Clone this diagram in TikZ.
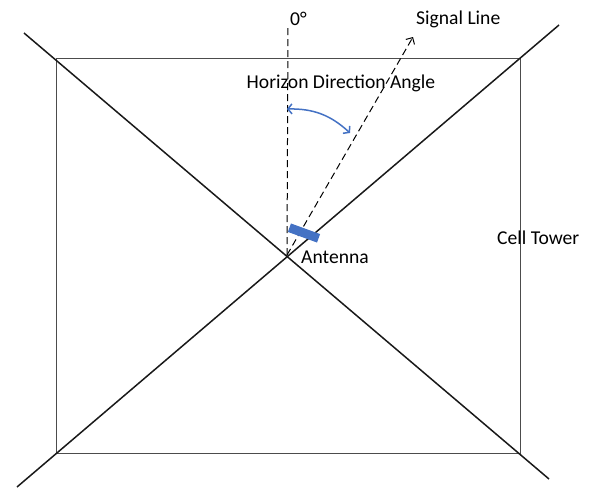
\documentclass[tikz,border=0pt]{standalone}
\usepackage{fontspec}
\setmainfont{Carlito}
\usetikzlibrary{arrows.meta}
\definecolor{antblue}{RGB}{68,114,196}
\tikzset{
  label text/.style={font=\fontsize{19.6}{22}\selectfont,inner sep=0pt},
  tower line/.style={line width=1.5pt,black!90},
  frame line/.style={line width=1pt,black!70},
  aim line/.style={line width=1pt,dash pattern=on 7pt off 4pt}
}
\begin{document}
\begin{tikzpicture}[x=1pt,y=-1pt,>=Latex]
  \useasboundingbox (0,0) rectangle (592,488);
  % tower outline
  \coordinate (tl) at (56,58); \coordinate (br) at (520,453);
  \draw[frame line] (tl) rectangle (br);
  \coordinate (d1s) at (24,33); \coordinate (d1e) at (549,479);
  \coordinate (d2s) at (17,487); \coordinate (d2e) at (559,25);
  \draw[tower line] (d1s) -- (d1e);
  \draw[tower line] (d2s) -- (d2e);
  % directions
  \coordinate (o) at (287,255);
  \coordinate (north) at (288,25);
  \coordinate (sig) at (413,37);
  \draw[aim line] (o) -- (north);
  \draw[aim line,-{Straight Barb[length=5pt,width=10pt]}] (o) -- (sig);
  \coordinate (a1) at (287,109); \coordinate (a2) at (350,133);
  \draw[antblue,line width=1.5pt,{Straight Barb[length=4pt,width=10pt]}-{Straight Barb[length=4pt,width=10pt]}] (a1) to[bend left=22] (a2);
  % antenna
  \node[fill=antblue,minimum width=31pt,minimum height=9pt,inner sep=0pt,rotate=-20] (ant) at (304,233) {};
  % labels
  \node[label text,anchor=west] (zero) at (290,19) {0°};
  \node[label text,anchor=west] (sigl) at (416,19) {Signal Line};
  \node[label text] (hda) at (341,83) {Horizon Direction Angle};
  \node[label text,anchor=west] (antl) at (301,257) {Antenna};
  \node[label text,anchor=west] (cell) at (497,238) {Cell Tower};
\end{tikzpicture}
\end{document}
